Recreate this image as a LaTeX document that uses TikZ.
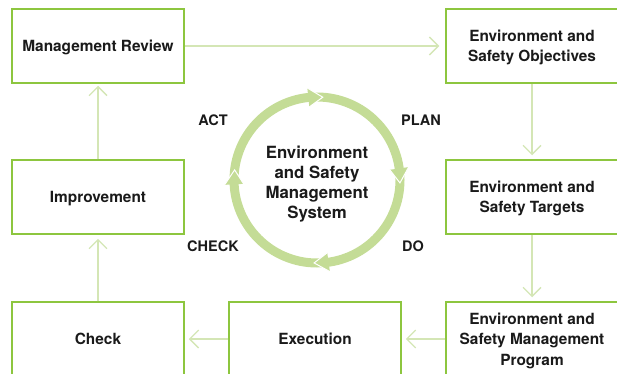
\documentclass[tikz,border=0pt]{standalone}
\usepackage{fontspec}
\setmainfont{TeX Gyre Heros}
\usetikzlibrary{arrows.meta,calc}
\definecolor{boxgreen}{RGB}{141,198,63}
\definecolor{linkgreen}{RGB}{212,230,181}
\definecolor{ringgreen}{RGB}{196,220,150}
\definecolor{ink}{RGB}{26,26,26}
\begin{document}
\begin{tikzpicture}[x=1pt,y=1pt,
  stagebox/.style={draw=boxgreen, line width=1.5pt, fill=white, minimum width=172pt,
    minimum height=74pt, align=center, text=ink, inner sep=0pt, text depth=0pt,
    font=\bfseries\fontsize{15.4}{20.5}\selectfont},
  link/.style={draw=linkgreen, line width=1.3pt,
    -{Straight Barb[length=9pt,width=18pt,line width=1.3pt]}, shorten >=4pt},
  pdca/.style={text=ink, font=\bfseries\fontsize{14.5}{17}\selectfont},
  ringlabel/.style={text=ink, align=center, font=\bfseries\fontsize{16.8}{20}\selectfont},
]
\useasboundingbox (0,0) rectangle (617,373);
\clip (0,0) rectangle (617,373);

% stage boxes
\node[stagebox] (mr)  at (98,327)  {Management Review};
\node[stagebox] (obj) at (532,327) {Environment and\\Safety Objectives};
\node[stagebox] (imp) at (98,176)  {Improvement};
\node[stagebox] (tgt) at (532,176) {Environment and\\Safety Targets};
\node[stagebox] (chk) at (98,34)   {Check};
\node[stagebox] (exe) at (315,34)  {Execution};
\node[stagebox] (prg) at (532,34)  {Environment and\\Safety Management\\Program};

% connectors
\draw[link, shorten >=6pt] (mr) -- (obj);
\draw[link] (obj) -- (tgt);
\draw[link] (tgt) -- (prg);
\draw[link] (prg) -- (exe);
\draw[link] (exe) -- (chk);
\draw[link] (chk) -- (imp);
\draw[link, shorten >=2pt] (imp) -- (mr);

% PDCA ring
\coordinate (c) at (317,193);
\draw[ringgreen, line width=9pt] (c) circle[radius=83];
\foreach \t in {86,-2,-92,173} {
  \fill[ringgreen] ($(c)+(\t+10:73.5)$) -- ($(c)+(\t:83)$) -- ($(c)+(\t+10:92.5)$) -- cycle;
  \draw[white, line width=1pt, line join=miter] ($(c)+(\t+10:73.5)$) -- ($(c)+(\t:83)$) -- ($(c)+(\t+10:92.5)$);
}
\node[ringlabel] (ems) at (317,189) {Environment\\and Safety\\Management\\System};

% PDCA labels
\node[pdca] (act)   at (213,253) {ACT};
\node[pdca] (plan)  at (421,253) {PLAN};
\node[pdca] (check) at (213,127) {CHECK};
\node[pdca] (do)    at (413,127) {DO};
\end{tikzpicture}
\end{document}
